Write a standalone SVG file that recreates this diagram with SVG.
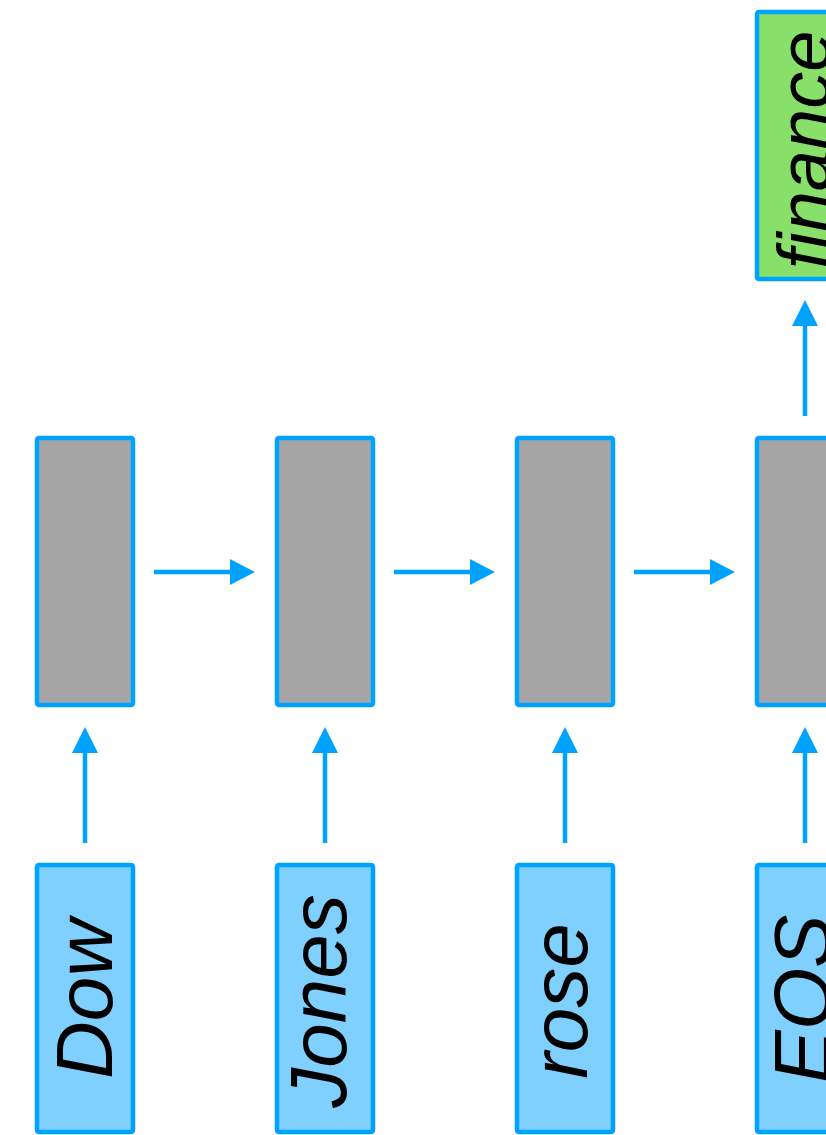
<svg xmlns="http://www.w3.org/2000/svg" width="826" height="1135" viewBox="0 0 826 1135">
<style>
.hid{fill:#a6a6a6;stroke:#00a2ff;stroke-width:4.5}
.inp{fill:#80d0ff;stroke:#00a2ff;stroke-width:4.5}
.out{fill:#88e06a;stroke:#00a2ff;stroke-width:4.5}
.lbl{font-family:"Liberation Sans",Arial,sans-serif;font-style:italic;font-size:80px;fill:#000;text-anchor:middle}
.ln{stroke:#00a2ff;stroke-width:4.5;fill:none}
.hd{fill:#00a2ff}
</style>
<rect width="826" height="1135" fill="#fff"/>
<g id="connectors">
<line class="ln" x1="154" y1="572" x2="232" y2="572"/><polygon class="hd" points="230,559 255,572 230,585"/>
<line class="ln" x1="394" y1="572" x2="472" y2="572"/><polygon class="hd" points="470,559 495,572 470,585"/>
<line class="ln" x1="634" y1="572" x2="712" y2="572"/><polygon class="hd" points="710,559 735,572 710,585"/>
<line class="ln" x1="85" y1="843" x2="85" y2="751"/><polygon class="hd" points="72,753 85,727 98,753"/>
<line class="ln" x1="325" y1="843" x2="325" y2="751"/><polygon class="hd" points="312,753 325,727 338,753"/>
<line class="ln" x1="565" y1="843" x2="565" y2="751"/><polygon class="hd" points="552,753 565,727 578,753"/>
<line class="ln" x1="805" y1="843" x2="805" y2="751"/><polygon class="hd" points="792,753 805,727 818,753"/>
<line class="ln" x1="805" y1="416" x2="805" y2="324"/><polygon class="hd" points="792,326 805,300 818,326"/>
</g>
<g id="h1"><rect class="hid" x="37" y="438" width="96" height="267" rx="2"/></g>
<g id="h2"><rect class="hid" x="277" y="438" width="96" height="267" rx="2"/></g>
<g id="h3"><rect class="hid" x="517" y="438" width="96" height="267" rx="2"/></g>
<g id="h4"><rect class="hid" x="757" y="438" width="96" height="267" rx="2"/></g>
<g id="in-dow"><rect class="inp" x="37" y="865" width="96" height="267" rx="2"/><text class="lbl" transform="translate(112,999) rotate(-90)">Dow</text></g>
<g id="in-jones"><rect class="inp" x="277" y="865" width="96" height="267" rx="2"/><text class="lbl" transform="translate(346,1001) rotate(-90)">Jones</text></g>
<g id="in-rose"><rect class="inp" x="517" y="865" width="96" height="267" rx="2"/><text class="lbl" transform="translate(587,1001) rotate(-90)">rose</text></g>
<g id="in-eos"><rect class="inp" x="757" y="865" width="96" height="267" rx="2"/><text class="lbl" transform="translate(830,999) rotate(-90)">EOS</text></g>
<g id="out-finance"><rect class="out" x="757" y="12" width="96" height="267" rx="2"/><text class="lbl" style="font-size:74px" transform="translate(830,150) rotate(-90)">finance</text></g>
</svg>
